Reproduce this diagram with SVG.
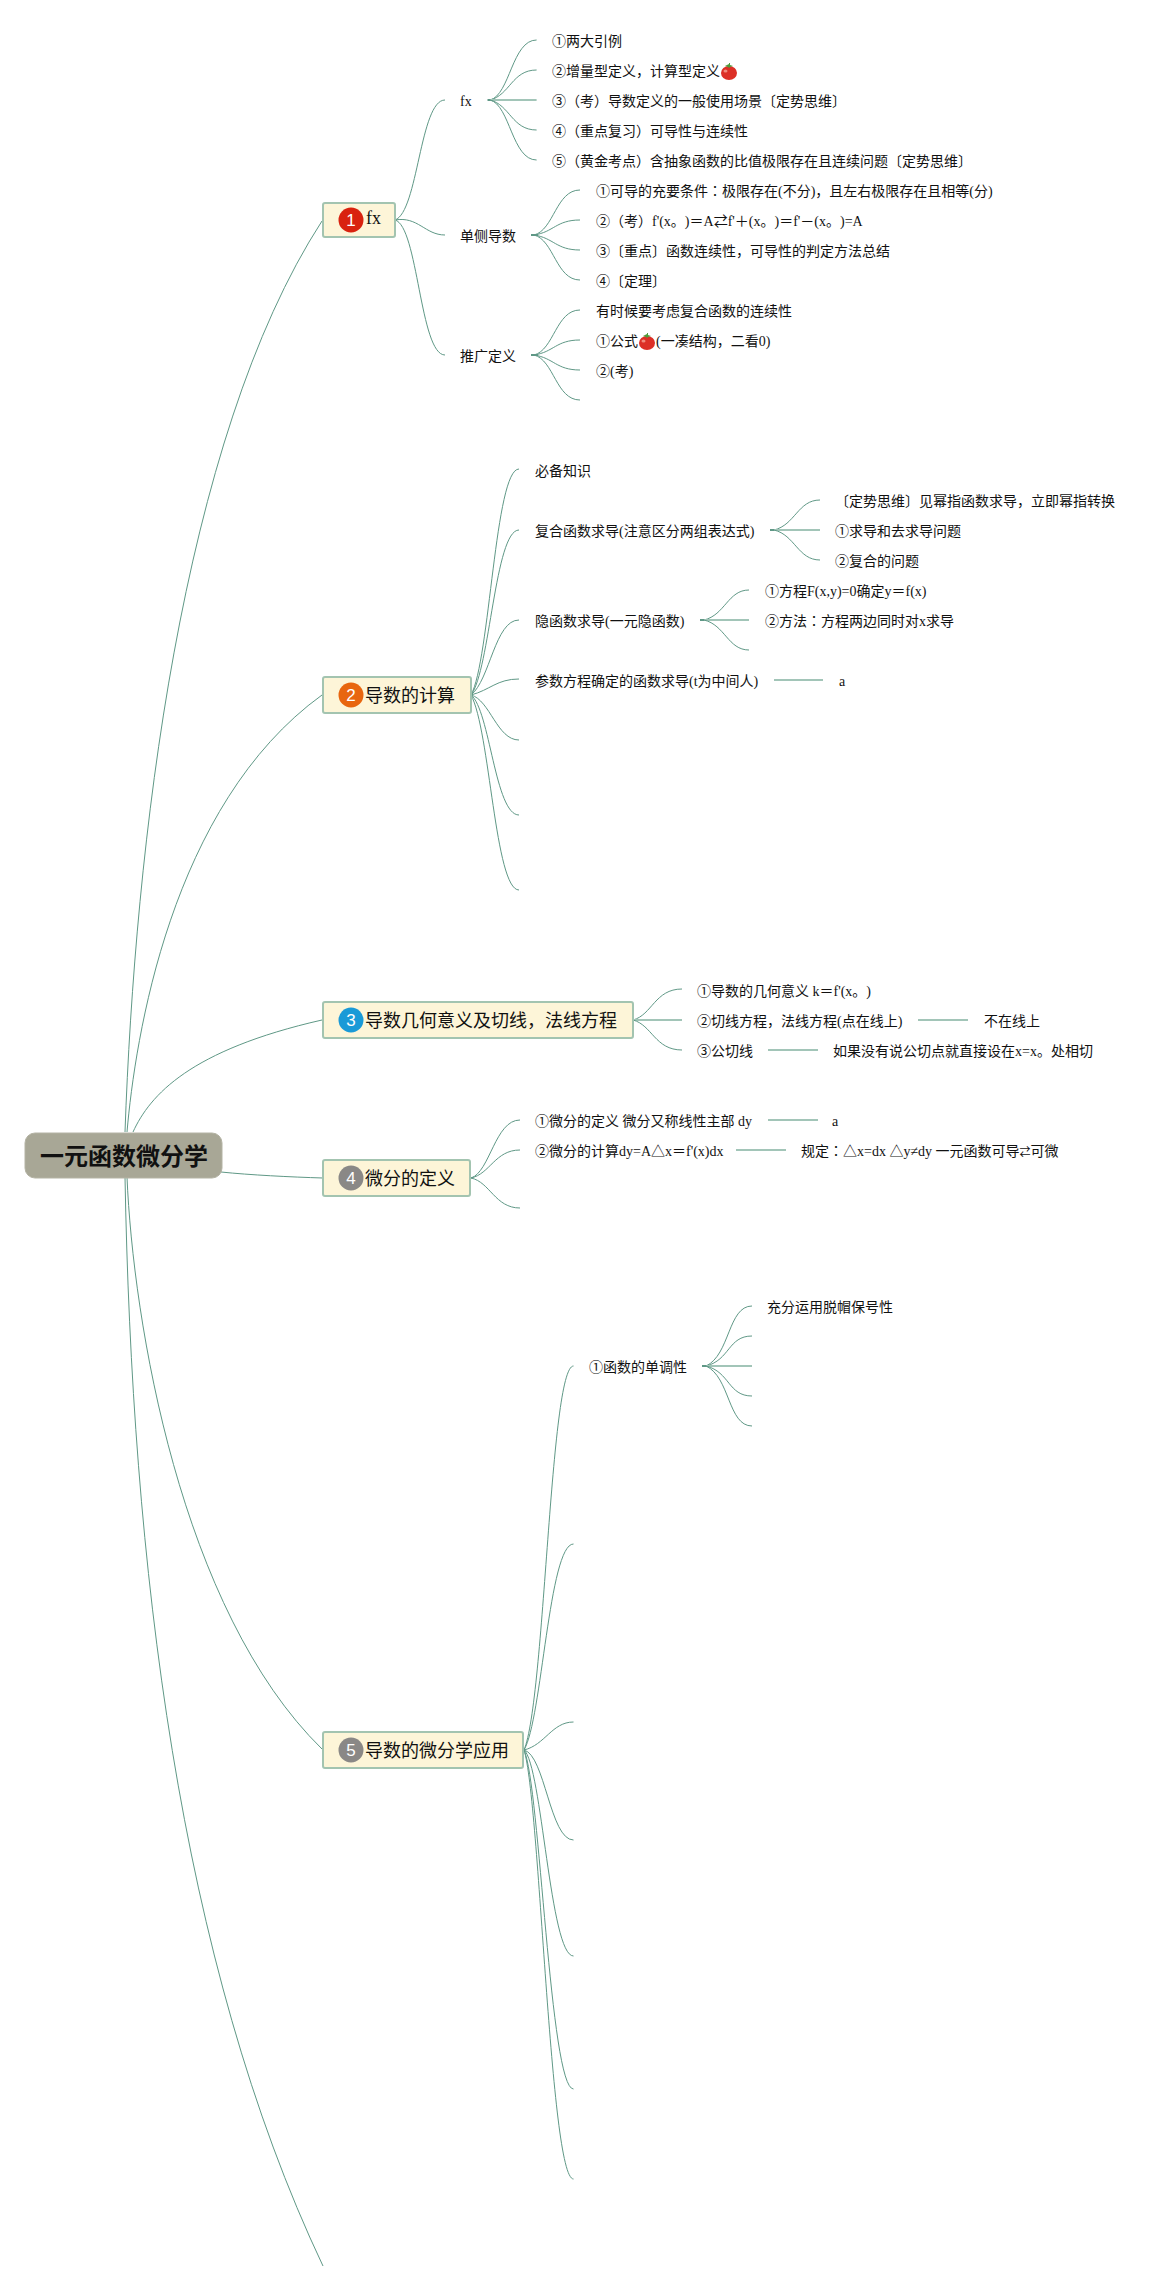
<svg xmlns="http://www.w3.org/2000/svg" width="1175" height="2292" viewBox="0 0 1175 2292">
<style>
text{font-family:"Liberation Serif","Noto Sans CJK SC",serif;font-size:14px;fill:#111}
.c{fill:none;stroke:#5f9886;stroke-width:1}
.s{fill:none;stroke:#a2c5b8;stroke-width:1.8}
.h{fill:none;stroke:#5f9886;stroke-width:2}
.box{fill:#fdf5d8;stroke:#a3c4b0;stroke-width:2}
.root{fill:#a8a796;stroke:#b4b3a4;stroke-width:1}
.rt{font-family:"Noto Sans CJK SC",sans-serif;font-size:24px;font-weight:700;text-anchor:middle}
.nt{font-family:"Noto Sans CJK SC","Liberation Serif",sans-serif;font-size:18px}
.num{font-family:"Liberation Sans",sans-serif;font-size:17px;fill:#fff;text-anchor:middle}
.jp{font-family:"Noto Sans CJK JP",sans-serif}
.ar{font-family:"Noto Sans CJK JP",sans-serif;font-size:11px}
.tr{fill:#dc2f26}.tl{fill:#4f9a3a}.th{fill:#f08a7c}
</style>
<defs>
<g id="tomato"><ellipse class="tr" cx="0" cy="1" rx="8" ry="7"/><ellipse class="th" cx="-3.500" cy="-1" rx="2" ry="1.500"/><path class="tl" d="M-4-6 0-8 0-9 1-9 1-7 4-6 1-5 0-4-1-5Z"/></g>
</defs>
<g id="connectors">
<path class="c" d="M125 1132C135 850 180 440 322 221"/>
<path class="c" d="M127 1132C135 1040 170 805 322 695"/>
<path class="c" d="M133 1132C150 1095 190 1050 322 1020"/>
<path class="c" d="M221 1172C250 1175 290 1177 323 1178"/>
<path class="c" d="M127 1177C133 1320 180 1610 322 1749"/>
<path class="c" d="M125 1177C132 1560 178 1960 323 2266"/>

<path class="c" d="M395 220C418 212 420 100 445 100"/>
<path class="c" d="M395 220C418 216 425 235 445 235"/>
<path class="c" d="M395 220C418 226 420 355 445 355"/>

<path class="h" d="M487.500 100H494"/><path class="h" d="M531 235H538"/><path class="h" d="M531 355H538"/>
<path class="c" d="M490 100C510 95 512 40 536.600 40"/>
<path class="c" d="M490 100C510 95 512 70 536.600 70"/>
<path class="s" d="M490 100H536.600"/>
<path class="c" d="M490 100C510 105 512 130 536.600 130"/>
<path class="c" d="M490 100C510 105 512 160 536.600 160"/>
<path class="c" d="M534 235C554 230 556 190 580 190"/>
<path class="c" d="M534 235C554 232 556 220 580 220"/>
<path class="c" d="M534 235C554 238 556 250 580 250"/>
<path class="c" d="M534 235C554 240 556 280 580 280"/>
<path class="c" d="M534 355C554 350 556 310 580 310"/>
<path class="c" d="M534 355C554 352 556 340 580 340"/>
<path class="c" d="M534 355C554 358 556 370 580 370"/>
<path class="c" d="M534 355C554 360 556 400 580 400"/>

<path class="c" d="M471 695C490 660 495 469 519 469"/>
<path class="c" d="M471 695C490 670 495 530 519 530"/>
<path class="c" d="M471 695C490 680 495 620 519 620"/>
<path class="c" d="M471 695C490 690 497 679 519 679"/>
<path class="c" d="M471 695C490 700 497 740 519 740"/>
<path class="c" d="M471 695C490 710 495 815 519 815"/>
<path class="c" d="M471 695C490 730 495 890 519 890"/>

<path class="h" d="M770 530H778"/><path class="h" d="M700 620H708"/>
<path class="c" d="M774 530C795 525 798 500 820 500"/>
<path class="s" d="M774 530H820"/>
<path class="c" d="M774 530C795 535 798 560 820 560"/>
<path class="c" d="M704 620C725 615 728 590 749 590"/>
<path class="s" d="M704 620H749"/>
<path class="c" d="M704 620C725 625 728 650 749 650"/>
<path class="s" d="M774 680H823"/>

<path class="c" d="M633 1020C652 1015 655 989 682 989"/>
<path class="s" d="M633 1020H682"/>
<path class="c" d="M633 1020C652 1025 655 1050 682 1050"/>
<path class="s" d="M918 1020H968"/>
<path class="s" d="M768 1050H818"/>

<path class="c" d="M471 1178C490 1172 495 1120 520 1120"/>
<path class="c" d="M471 1178C490 1174 495 1150 520 1150"/>
<path class="c" d="M471 1178C490 1182 495 1208 520 1208"/>
<path class="s" d="M768 1120H818"/>
<path class="s" d="M736 1150H786"/>

<path class="c" d="M524 1750C545 1700 550 1366 573.500 1366"/>
<path class="c" d="M524 1750C542 1720 549 1544 573.500 1544"/>
<path class="c" d="M524 1750C545 1745 552 1722 573.500 1722"/>
<path class="c" d="M524 1750C545 1755 550 1840 573.500 1840"/>
<path class="c" d="M524 1750C542 1765 550 1956 573.500 1956"/>
<path class="c" d="M524 1750C540 1785 550 2089 573.500 2089"/>
<path class="c" d="M524 1750C540 1800 550 2179 573.500 2179"/>

<path class="h" d="M702 1366H710"/>
<path class="c" d="M706 1366C730 1355 728 1306 752 1306"/>
<path class="c" d="M706 1366C730 1360 728 1336 752 1336"/>
<path class="s" d="M706 1366H752"/>
<path class="c" d="M706 1366C730 1372 728 1396 752 1396"/>
<path class="c" d="M706 1366C730 1377 728 1426 752 1426"/>
</g>

<g id="root"><rect class="root" x="25" y="1133" width="197" height="45" rx="10"/><text class="rt" x="124" y="1165">一元函数微分学</text></g>

<g id="node1"><rect class="box" x="323" y="203" width="72" height="34" rx="2"/><circle cx="351" cy="220" r="12.500" fill="#d9220f"/><text class="num" x="351" y="226">1</text><text x="366" y="224" style="font-size:18px">fx</text></g>
<g id="node2"><rect class="box" x="323" y="677" width="148" height="36" rx="2"/><circle cx="351" cy="695" r="12.500" fill="#e8660f"/><text class="num" x="351" y="701">2</text><text class="nt" x="365" y="702">导数的计算</text></g>
<g id="node3"><rect class="box" x="323" y="1002" width="310" height="36" rx="2"/><circle cx="351" cy="1020" r="12.500" fill="#1a9ad7"/><text class="num" x="351" y="1026">3</text><text class="nt" x="365" y="1027">导数几何意义及切线，法线方程</text></g>
<g id="node4"><rect class="box" x="323" y="1160" width="147" height="36" rx="2"/><circle cx="351" cy="1178" r="12.500" fill="#8a8886"/><text class="num" x="351" y="1184">4</text><text class="nt" x="365" y="1185">微分的定义</text></g>
<g id="node5"><rect class="box" x="323" y="1732" width="200" height="36" rx="2"/><circle cx="351" cy="1750" r="12.500" fill="#8a8886"/><text class="num" x="351" y="1756">5</text><text class="nt" x="365" y="1757">导数的微分学应用</text></g>

<g id="n1-1"><text x="460" y="106">fx</text></g>
<g id="n1-1-1"><text x="552" y="46">①两大引例</text></g>
<g id="n1-1-2"><text x="552" y="76">②增量型定义，计算型定义</text><use href="#tomato" x="729" y="72"/></g>
<g id="n1-1-3"><text x="552" y="106">③（考）导数定义的一般使用场景〔定势思维〕</text></g>
<g id="n1-1-4"><text x="552" y="136">④（重点复习）可导性与连续性</text></g>
<g id="n1-1-5"><text x="552" y="166">⑤（黄金考点）含抽象函数的比值极限存在且连续问题〔定势思维〕</text></g>
<g id="n1-2"><text x="460" y="241">单侧导数</text></g>
<g id="n1-2-1"><text x="596" y="196">①可导的充要条件<tspan class="jp">：</tspan>极限存在(不分)，且左右极限存在且相等(分)</text></g>
<g id="n1-2-2"><text x="596" y="226">②（考）f'(x。<tspan dx="7">)</tspan>＝A<tspan class="jp">⇄</tspan>f'＋(x。<tspan dx="7">)</tspan>＝f'－(x。<tspan dx="7">)</tspan>=A</text></g>
<g id="n1-2-3"><text x="596" y="256">③〔重点〕函数连续性，可导性的判定方法总结</text></g>
<g id="n1-2-4"><text x="596" y="286">④〔定理〕</text></g>
<g id="n1-3"><text x="460" y="361">推广定义</text></g>
<g id="n1-3-1"><text x="596" y="316">有时候要考虑复合函数的连续性</text></g>
<g id="n1-3-2"><text x="596" y="346">①公式</text><use href="#tomato" x="647" y="342"/><text x="656" y="346">(一凑结构，二看0)</text></g>
<g id="n1-3-3"><text x="596" y="376">②(考)</text></g>

<g id="n2-1"><text x="535" y="476">必备知识</text></g>
<g id="n2-2"><text x="535" y="536">复合函数求导(注意区分两组表达式)</text></g>
<g id="n2-2-1"><text x="835" y="506">〔定势思维〕见幂指函数求导，立即幂指转换</text></g>
<g id="n2-2-2"><text x="835" y="536">①求导和去求导问题</text></g>
<g id="n2-2-3"><text x="835" y="566">②复合的问题</text></g>
<g id="n2-3"><text x="535" y="626">隐函数求导(一元隐函数)</text></g>
<g id="n2-3-1"><text x="765" y="596">①方程F(x,y)=0确定y＝f(x)</text></g>
<g id="n2-3-2"><text x="765" y="626">②方法<tspan class="jp">：</tspan>方程两边同时对x求导</text></g>
<g id="n2-4"><text x="535" y="686">参数方程确定的函数求导(t为中间人)</text></g>
<g id="n2-4-1"><text x="839" y="686">a</text></g>

<g id="n3-1"><text x="697" y="996">①导数的几何意义 k＝f'(x。<tspan dx="7">)</tspan></text></g>
<g id="n3-2"><text x="697" y="1026">②切线方程，法线方程(点在线上)</text></g>
<g id="n3-2-1"><text x="984" y="1026">不在线上</text></g>
<g id="n3-3"><text x="697" y="1056">③公切线</text></g>
<g id="n3-3-1"><text x="833" y="1056">如果没有说公切点就直接设在x=x。处相切</text></g>

<g id="n4-1"><text x="535" y="1126">①微分的定义 微分又称线性主部 dy</text></g>
<g id="n4-1-1"><text x="832" y="1126">a</text></g>
<g id="n4-2"><text x="535" y="1156">②微分的计算dy=A△x＝f'(x)dx</text></g>
<g id="n4-2-1"><text x="801" y="1156">规定<tspan class="jp">：</tspan>△x=dx △y≠dy 一元函数可导<tspan class="ar">⇄</tspan>可微</text></g>

<g id="n5-1"><text x="589" y="1372">①函数的单调性</text></g>
<g id="n5-1-1"><text x="767" y="1312">充分运用脱帽保号性</text></g>
</svg>
